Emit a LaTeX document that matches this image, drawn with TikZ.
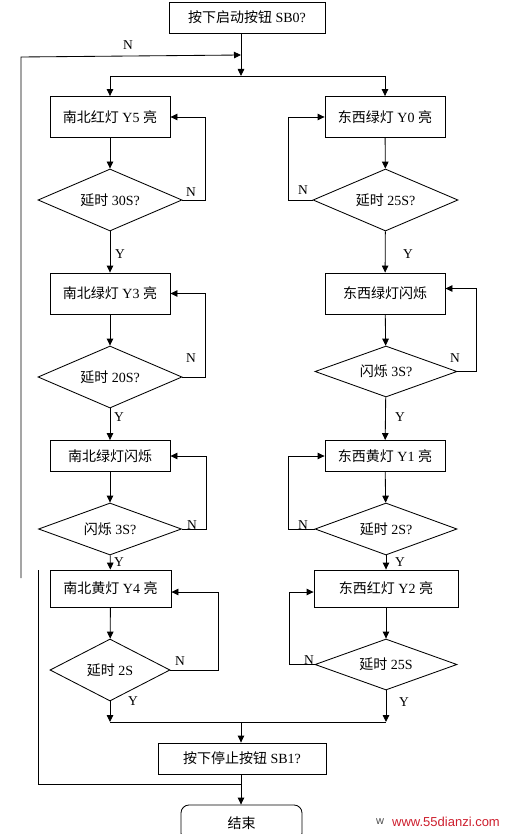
\documentclass[tikz,border=0pt]{standalone}
\usepackage{fontspec}
\setmainfont{Liberation Serif}
\newfontfamily\cjk{Noto Sans CJK SC}
\newfontfamily\wmfont{Liberation Sans}
\usetikzlibrary{shapes.geometric,arrows.meta}
\newcommand{\zh}[1]{{\cjk #1}}
\definecolor{wmred}{RGB}{205,30,45}
\begin{document}
\begin{tikzpicture}[x=1pt,y=-1pt,line width=0.85pt,
  >={Triangle[length=7pt,width=6.5pt]},
  font=\fontsize{14}{16}\selectfont,
  box/.style={draw,rectangle,inner sep=0pt},
  dec/.style={draw,diamond,inner sep=0pt,shape aspect=2.3},
  lbl/.style={inner sep=0pt,font=\fontsize{13.5}{15}\selectfont}]
\useasboundingbox (0,0) rectangle (507,834);

% nodes
\node[box,minimum width=156pt,minimum height=31pt] (start) at (247,17.5) {\zh{按下启动按钮} SB0?};

\node[box,minimum width=120pt,minimum height=41pt] (L1) at (110,117) {\zh{南北红灯} Y5 \zh{亮}};
\node[dec,minimum width=144pt,minimum height=62pt] (D1) at (110,200) {\zh{延时} 30S?};
\node[box,minimum width=120pt,minimum height=41pt] (L2) at (110,293.5) {\zh{南北绿灯} Y3 \zh{亮}};
\node[dec,minimum width=144pt,minimum height=62pt] (D2) at (110,377) {\zh{延时} 20S?};
\node[box,minimum width=120pt,minimum height=31pt] (L3) at (110,456) {\zh{南北绿灯闪烁}};
\node[dec,minimum width=143pt,minimum height=52pt] (D3) at (110,529) {\zh{闪烁} 3S?};
\node[box,minimum width=121pt,minimum height=37pt] (L4) at (110.5,588.5) {\zh{南北黄灯} Y4 \zh{亮}};
\node[dec,minimum width=120pt,minimum height=62pt] (D4) at (110,670) {\zh{延时} 2S};

\node[box,minimum width=120pt,minimum height=41pt] (R1) at (385,117) {\zh{东西绿灯} Y0 \zh{亮}};
\node[dec,minimum width=145pt,minimum height=62pt] (RD1) at (385.5,200) {\zh{延时} 25S?};
\node[box,minimum width=120pt,minimum height=41pt] (R2) at (385,293.5) {\zh{东西绿灯闪烁}};
\node[dec,minimum width=142pt,minimum height=51pt] (RD2) at (386,371.5) {\zh{闪烁} 3S?};
\node[box,minimum width=120pt,minimum height=31pt] (R3) at (385,456) {\zh{东西黄灯} Y1 \zh{亮}};
\node[dec,minimum width=142pt,minimum height=52pt] (RD3) at (386,529) {\zh{延时} 2S?};
\node[box,minimum width=144pt,minimum height=37pt] (R4) at (386,588.5) {\zh{东西红灯} Y2 \zh{亮}};
\node[dec,minimum width=142pt,minimum height=51pt] (RD4) at (386,664.5) {\zh{延时} 25S};

\node[box,minimum width=168pt,minimum height=31pt] (stop) at (242,758.5) {\zh{按下停止按钮} SB1?};
\node[draw,rounded corners=8pt,minimum width=121pt,minimum height=36pt,inner sep=0pt] (end) at (241.5,823) {\zh{结束}};

% coordinates
\coordinate (top) at (241,76);
\coordinate (nA) at (21,578);
\coordinate (nB) at (21,57);
\coordinate (nC) at (241,55);
\coordinate (bL) at (110,722);
\coordinate (bR) at (386,722);
\coordinate (bM) at (241,722);
\coordinate (lb) at (241,784);
\coordinate (lc) at (38,784);
\coordinate (ld) at (38,570);

% connectors
\draw[->] (start.south -| top) -- (top);
\draw[->] (nA) -- (nB) -- (nC);
\draw (L1.north |- top) -- (R1.north |- top);
\draw[->] (L1.north |- top) -- (L1.north);
\draw[->] (R1.north |- top) -- (R1.north);

\draw[->] (L1) -- (D1);
\draw[->] (D1) -- (L2);
\draw[->] (L2) -- (D2);
\draw[->] (D2) -- (L3);
\draw[->] (L3) -- (D3);
\draw[->] (D3) -- (L4);
\draw[->] (L4) -- (D4);

\draw[->] (R1) -- (RD1);
\draw[->] (RD1) -- (R2);
\draw[->] (R2) -- (RD2);
\draw[->] (RD2) -- (R3);
\draw[->] (R3) -- (RD3);
\draw[->] (RD3) -- (R4);
\draw[->] (R4) -- (RD4);

\draw[->] (D1.east) -- ++(23,0) |- (L1.east);
\draw[->] (D2.east) -- ++(23,0) |- (L2.east);
\draw[->] (D3.east) -- ++(24,0) |- (L3.east);
\draw[->] (D4.east) -- ++(48,0) |- ([yshift=-3.5pt]L4.east);

\draw[->] (RD1.west) -- ++(-24,0) |- (R1.west);
\draw[->] (RD2.east) -- ++(19,0) |- ([yshift=5pt]R2.east);
\draw[->] (RD3.west) -- ++(-26,0) |- (R3.west);
\draw[->] (RD4.west) -- ++(-25,0) |- ([yshift=-3.5pt]R4.west);

\draw[->] (D4.south) -- (bL);
\draw[->] (RD4.south) -- (bR);
\draw (bL) -- (bR);
\draw[->] (bM) -- (bM |- stop.north);
\draw[->] (stop.south -| bM) -- (bM |- end.north);
\draw (lb) -- (lc) -- (ld);

% labels
\node[lbl] (n0) at (128,45) {N};
\node[lbl] (n1) at (191,192) {N};
\node[lbl] (n1r) at (303,190) {N};
\node[lbl] (y1) at (120,254) {Y};
\node[lbl] (y1r) at (408,254) {Y};
\node[lbl] (n2) at (191,358) {N};
\node[lbl] (n2r) at (455,358) {N};
\node[lbl] (y2) at (119,417) {Y};
\node[lbl] (y2r) at (400,417) {Y};
\node[lbl] (n3) at (192,525) {N};
\node[lbl] (n3r) at (303,525) {N};
\node[lbl] (y3) at (119,562) {Y};
\node[lbl] (y3r) at (400,562) {Y};
\node[lbl] (n4) at (180,661) {N};
\node[lbl] (n4r) at (309,660) {N};
\node[lbl] (y4) at (133,701) {Y};
\node[lbl] (y4r) at (404,702) {Y};

% watermark
\node[inner sep=0pt,font=\wmfont\fontsize{11}{13}\selectfont,text=black!70] (wm0) at (380,822) {w};
\node[inner sep=0pt,font=\wmfont\fontsize{13}{15}\selectfont,text=wmred] (wm) at (446,822) {www.55dianzi.com};
\end{tikzpicture}
\end{document}
